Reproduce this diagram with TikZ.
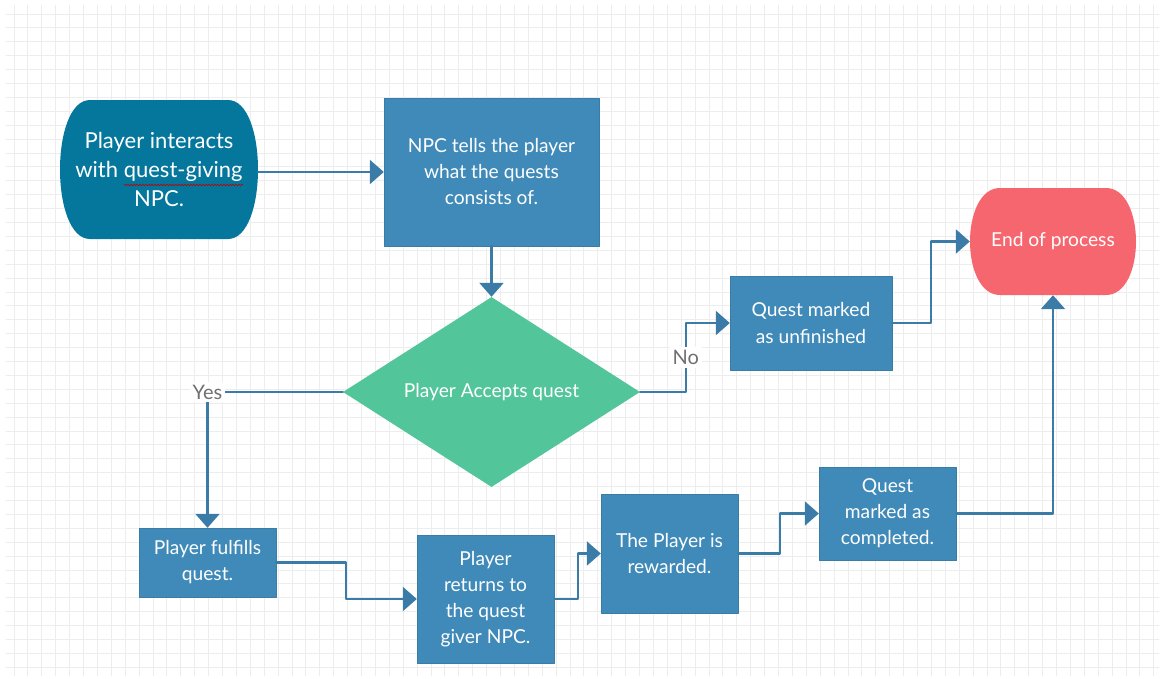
\documentclass[tikz,border=0pt]{standalone}
\usepackage{fontspec}
\setmainfont{Lato}
\usetikzlibrary{arrows.meta,shapes.geometric,decorations.pathmorphing}

\definecolor{startblue}{HTML}{05779C}
\definecolor{boxblue}{HTML}{3F8AB8}
\definecolor{flowblue}{HTML}{3A7CA7}
\definecolor{acceptgreen}{HTML}{52C59A}
\definecolor{endred}{HTML}{F6666F}
\definecolor{gridgray}{HTML}{EDEDED}
\definecolor{labelgray}{HTML}{707070}

\begin{document}
\begin{tikzpicture}[
  x=1pt,
  y=-1pt,
  line cap=round,
  line join=round,
  box/.style={
    rectangle,
    fill=boxblue,
    draw=boxblue!90!black,
    line width=0.4pt,
    text=white,
    align=center,
    inner sep=0pt,
    font=\fontsize{19.2}{26}\selectfont
  },
  terminal/.style={
    rectangle,
    text=white,
    align=center,
    inner sep=0pt,
    path picture={
      \fill[#1]
        ([xshift=30pt]path picture bounding box.north west) --
        ([xshift=-30pt]path picture bounding box.north east)
        .. controls ([xshift=10pt]path picture bounding box.north east)
        and ([xshift=10pt]path picture bounding box.south east) ..
        ([xshift=-30pt]path picture bounding box.south east) --
        ([xshift=30pt]path picture bounding box.south west)
        .. controls ([xshift=-10pt]path picture bounding box.south west)
        and ([xshift=-10pt]path picture bounding box.north west) ..
        cycle;
    }
  },
  flow/.style={
    draw=flowblue,
    line width=2.4pt,
    -{Triangle[length=14pt,width=24pt]}
  },
  lbl/.style={
    fill=white,
    text=labelgray,
    inner sep=3pt,
    font=\fontsize{20}{24}\selectfont
  }
]
  \useasboundingbox (0,0) rectangle (1171,678);

  % Grid
  \draw[gridgray, line width=0.7pt, step=13.9pt]
    (6,5) grid (1159,676);

  % Terminals
  \node[
    terminal=startblue,
    minimum width=198pt,
    minimum height=139pt,
    font=\fontsize{22}{29}\selectfont
  ] (start) at (159,169.5)
    {Player interacts\\with quest-giving\\NPC.};

  \node[
    terminal=endred,
    minimum width=166pt,
    minimum height=107pt,
    font=\fontsize{19.2}{26}\selectfont
  ] (endp) at (1053,241.5) {End of process};

  % Spell-check mark
  \draw[
    red!75!black,
    line width=0.6pt,
    decorate,
    decoration={snake, amplitude=0.8pt, segment length=3pt}
  ] (124,185) -- (243,185);

  % Steps
  \node[box, minimum width=215pt, minimum height=148pt] (npc)
    at (491.5,172) {NPC tells the player\\what the quests\\consists of.};

  \node[
    diamond,
    fill=acceptgreen,
    text=white,
    inner sep=0pt,
    aspect=1.56,
    minimum width=297pt,
    minimum height=190pt,
    font=\fontsize{19.2}{26}\selectfont
  ] (acc) at (491.5,392) {Player Accepts quest};

  \node[box, minimum width=162pt, minimum height=94pt] (unf)
    at (811,323) {Quest marked\\as unfinished};

  \node[box, minimum width=137pt, minimum height=69pt] (fulf)
    at (207.5,562.5) {Player fulfills\\quest.};

  \node[box, minimum width=137pt, minimum height=128pt] (ret)
    at (485.5,599) {Player\\returns to\\the quest\\giver NPC.};

  \node[box, minimum width=137pt, minimum height=119pt] (rew)
    at (669.5,553.5) {The Player is\\rewarded.};

  \node[box, minimum width=137pt, minimum height=93pt] (comp)
    at (887.5,513.5) {Quest\\marked as\\completed.};

  % Connectors
  \draw[flow] (start.east |- npc.west) -- (npc.west);
  \draw[flow] (npc.south) -- (acc.north);
  \draw[flow] (acc.east) -| node[lbl, pos=0.75] {No}
    ([xshift=-44pt]unf.west) -- (unf.west);
  \draw[flow] (unf.east) -- ++(39,0) |- (endp.west);
  \draw[flow] (acc.west) -| node[lbl, pos=0.5] {Yes} (fulf.north);
  \draw[flow] (fulf.east) -- ++(70,0) |- (ret.west);
  \draw[flow] (ret.east) -- ++(24,0) |- (rew.west);
  \draw[flow] (rew.east) -- ++(42,0) |- (comp.west);
  \draw[flow] (comp.east) -| (endp.south);
\end{tikzpicture}
\end{document}
